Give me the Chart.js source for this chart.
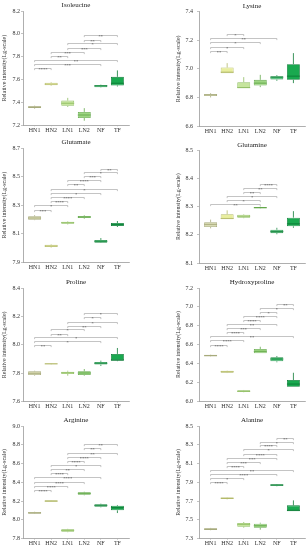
<!DOCTYPE html>
<html><head><meta charset="utf-8">
<script src="https://cdn.jsdelivr.net/npm/chart.js@4.4.1/dist/chart.umd.min.js"></script>
<style>
html,body{margin:0;padding:0;background:#fff;width:308px;height:550px;overflow:hidden}
canvas{position:absolute;display:block}
</style></head><body>
<script>
// ---------- DATA ----------
const CATEGORIES = ['HN1','HN2','LN1','LN2','NF','TF'];
// box stats per group: [min, q1, median, q3, max]
const ISOLEUCINE = [[7.345,7.352,7.360,7.366,7.372],[7.545,7.551,7.560,7.572,7.578],[7.360,7.370,7.393,7.416,7.440],[7.240,7.264,7.290,7.317,7.350],[7.530,7.533,7.545,7.553,7.556],[7.540,7.548,7.568,7.624,7.680]];
const LYSINE = [[6.800,6.810,6.818,6.824,6.830],[6.970,6.970,6.977,7.009,7.040],[6.865,6.865,6.869,6.907,6.942],[6.872,6.883,6.900,6.923,6.958],[6.916,6.925,6.942,6.949,6.956],[6.900,6.923,6.949,7.033,7.110]];
const GLUTAMATE = [[8.195,8.198,8.210,8.222,8.230],[8.003,8.007,8.014,8.023,8.027],[8.165,8.170,8.177,8.184,8.188],[8.205,8.210,8.217,8.224,8.229],[8.035,8.037,8.047,8.056,8.070],[8.147,8.154,8.163,8.175,8.189]];
const GLUTAMINE = [[8.223,8.228,8.237,8.245,8.254],[8.255,8.255,8.258,8.273,8.287],[8.259,8.261,8.266,8.271,8.273],[8.293,8.294,8.296,8.299,8.300],[8.202,8.206,8.212,8.218,8.225],[8.225,8.230,8.239,8.261,8.284]];
const PROLINE = [[7.783,7.788,7.800,7.814,7.818],[7.861,7.863,7.866,7.870,7.872],[7.783,7.795,7.804,7.811,7.818],[7.783,7.788,7.802,7.814,7.830],[7.851,7.861,7.870,7.880,7.889],[7.885,7.889,7.894,7.936,7.978]];
const HYDROXYPROLINE = [[6.470,6.474,6.481,6.491,6.494],[6.297,6.300,6.311,6.322,6.325],[6.093,6.096,6.103,6.114,6.117],[6.506,6.506,6.527,6.552,6.576],[6.411,6.421,6.446,6.464,6.478],[6.152,6.152,6.180,6.223,6.300]];
const ARGININE = [[8.063,8.066,8.075,8.084,8.087],[8.192,8.194,8.200,8.209,8.211],[7.869,7.874,7.889,7.900,7.905],[8.262,8.268,8.283,8.294,8.300],[8.134,8.140,8.155,8.166,8.173],[8.073,8.102,8.130,8.151,8.159]];
const ALANINE = [[7.390,7.393,7.402,7.410,7.415],[7.718,7.722,7.731,7.740,7.743],[7.417,7.428,7.453,7.467,7.478],[7.396,7.417,7.438,7.460,7.470],[7.858,7.861,7.872,7.879,7.882],[7.591,7.591,7.602,7.655,7.708]];

// significance brackets: [group a, group b, level, label]
const ISOLEUCINE_SIG = [[0,1,7.697,'****'],[0,4,7.735,'***'],[0,5,7.770,'**'],[1,2,7.802,'**'],[1,3,7.840,'***'],[2,4,7.875,'***'],[2,5,7.919,'*'],[3,4,7.948,'**'],[3,5,7.989,'**']];
const LYSINE_SIG = [[0,1,7.126,'**'],[0,2,7.154,'*'],[0,3,7.185,'*'],[0,4,7.213,'**'],[1,2,7.243,'*']];
const GLUTAMATE_SIG = [[0,1,8.268,'***'],[0,2,8.299,'*'],[1,2,8.329,'****'],[1,3,8.357,'****'],[1,4,8.387,'*'],[1,5,8.415,'*'],[2,3,8.448,'**'],[2,4,8.478,'****'],[3,4,8.503,'***'],[3,5,8.534,'*'],[4,5,8.555,'**']];
const GLUTAMINE_SIG = [[0,3,8.309,'**'],[1,3,8.323,'*'],[1,4,8.338,'*'],[2,3,8.352,'**'],[2,4,8.366,'**'],[3,4,8.380,'****']];
const PROLINE_SIG = [[0,1,7.997,'**'],[0,4,8.030,'*'],[0,5,8.053,'*'],[1,2,8.079,'**'],[1,3,8.110,'*'],[2,4,8.133,'**'],[2,5,8.163,'*'],[3,4,8.194,'*'],[3,5,8.225,'*']];
const HYDROXYPROLINE_SIG = [[0,1,6.598,'****'],[0,2,6.644,'****'],[0,5,6.687,'**'],[1,2,6.729,'****'],[1,3,6.771,'***'],[1,4,6.814,'**'],[2,3,6.857,'****'],[2,4,6.899,'****'],[3,4,6.948,'*'],[3,5,6.991,'*'],[4,5,7.030,'**']];
const ARGININE_SIG = [[0,1,8.321,'****'],[0,2,8.364,'****'],[0,3,8.406,'****'],[0,4,8.453,'****'],[1,2,8.496,'****'],[1,3,8.538,'**'],[1,4,8.584,'*'],[2,3,8.627,'****'],[2,4,8.669,'****'],[2,5,8.715,'**'],[3,4,8.762,'**'],[3,5,8.804,'**']];
const ALANINE_SIG = [[0,1,7.903,'****'],[0,2,7.946,'*'],[0,4,7.991,'****'],[0,5,8.034,'**'],[1,2,8.077,'****'],[1,3,8.119,'***'],[1,4,8.162,'***'],[2,4,8.204,'****'],[2,5,8.251,'*'],[3,4,8.293,'****'],[3,5,8.332,'*'],[4,5,8.375,'**']];

// y tick labels
const ISOLEUCINE_TICKS = [7.2,7.4,7.6,7.8,8.0,8.2];
const LYSINE_TICKS = [6.6,6.8,7.0,7.2,7.4];
const GLUTAMATE_TICKS = [7.9,8.1,8.3,8.5,8.7];
const GLUTAMINE_TICKS = [8.1,8.2,8.3,8.4,8.5];
const PROLINE_TICKS = [7.6,7.8,8.0,8.2,8.4];
const HYDROXYPROLINE_TICKS = [6.0,6.2,6.4,6.6,6.8,7.0,7.2];
const ARGININE_TICKS = [7.8,8.0,8.2,8.4,8.6,8.8,9.0];
const ALANINE_TICKS = [7.3,7.5,7.7,7.9,8.1,8.3,8.5];

const TITLES = ['Isoleucine','Lysine','Glutamate','Glutamine','Proline','Hydroxyproline','Arginine','Alanine'];
const Y_TITLE = 'Relative intensity(Lg-scale)';

// ---------- STYLE / LAYOUT ----------
const FILLS = ['#d9dbb3','#e8ee9e','#c6e59d','#9dd682','#3fba6c','#19a94f'];
const EDGES = ['#a7aa7c','#b4ba6a','#8fbd62','#64a84c','#208a46','#0c7a35'];
const FONT = '"Liberation Serif","DejaVu Serif",serif';
Chart.defaults.font.family = FONT;

const PANELS = [
  {stats:ISOLEUCINE, sig:ISOLEUCINE_SIG, ticks:ISOLEUCINE_TICKS, col:0, top:0,   h:137, pt:11,   pb:125.3},
  {stats:LYSINE, sig:LYSINE_SIG, ticks:LYSINE_TICKS, col:1, top:0,   h:137, pt:11.7, pb:126},
  {stats:GLUTAMATE, sig:GLUTAMATE_SIG, ticks:GLUTAMATE_TICKS, col:0, top:137, h:137, pt:11, pb:125.3},
  {stats:GLUTAMINE, sig:GLUTAMINE_SIG, ticks:GLUTAMINE_TICKS, col:1, top:137, h:137, pt:13.3, pb:126},
  {stats:PROLINE, sig:PROLINE_SIG, ticks:PROLINE_TICKS, col:0, top:274, h:137, pt:14, pb:127.7},
  {stats:HYDROXYPROLINE, sig:HYDROXYPROLINE_SIG, ticks:HYDROXYPROLINE_TICKS, col:1, top:274, h:137, pt:14, pb:127},
  {stats:ARGININE, sig:ARGININE_SIG, ticks:ARGININE_TICKS, col:0, top:411, h:139, pt:15, pb:127.7},
  {stats:ALANINE, sig:ALANINE_SIG, ticks:ALANINE_TICKS, col:1, top:411, h:139, pt:15, pb:127.7}
];

function makePlugin(p, title){
  return {
    id:'boxextras',
    beforeDatasetsDraw(chart){
      const {ctx, scales:{x,y}} = chart;
      ctx.save();
      ctx.lineWidth = 0.8;
      p.stats.forEach((s,i)=>{
        const cx = x.getPixelForValue(i);
        ctx.strokeStyle = EDGES[i];
        ctx.beginPath();
        ctx.moveTo(cx, y.getPixelForValue(s[3])); ctx.lineTo(cx, y.getPixelForValue(s[4]));
        ctx.moveTo(cx, y.getPixelForValue(s[1])); ctx.lineTo(cx, y.getPixelForValue(s[0]));
        ctx.stroke();
      });
      ctx.restore();
    },
    afterDatasetsDraw(chart){
      const {ctx, scales:{x,y}, chartArea} = chart;
      const meta = chart.getDatasetMeta(0);
      ctx.save();
      // medians
      p.stats.forEach((s,i)=>{
        const bar = meta.data[i];
        const w = bar.width;
        const cx = x.getPixelForValue(i);
        const my = y.getPixelForValue(s[2]);
        ctx.strokeStyle = EDGES[i]; ctx.lineWidth = 0.9;
        ctx.beginPath(); ctx.moveTo(cx-w/2, my); ctx.lineTo(cx+w/2, my); ctx.stroke();
      });
      // significance brackets
      p.sig.forEach(([a,b,v,lab])=>{
        const x1 = x.getPixelForValue(a), x2 = x.getPixelForValue(b), yy = Math.round(y.getPixelForValue(v))+0.5;
        ctx.strokeStyle = '#9c9c9c'; ctx.lineWidth = 0.6;
        ctx.beginPath();
        ctx.moveTo(x1, yy+1.6); ctx.lineTo(x1, yy); ctx.lineTo(x2, yy); ctx.lineTo(x2, yy+1.6);
        ctx.stroke();
        ctx.fillStyle = '#555'; ctx.font = '4.5px ' + FONT;
        ctx.textAlign = 'center'; ctx.textBaseline = 'alphabetic';
        ctx.fillText(lab, (x1+x2)/2, yy+2.2);
      });
      // panel title
      ctx.fillStyle = '#222'; ctx.font = '7px ' + FONT;
      ctx.textAlign = 'center'; ctx.textBaseline = 'middle';
      ctx.fillText(title, (chartArea.left+chartArea.right)/2, chartArea.top - 5.5);
      ctx.restore();
    }
  };
}

PANELS.forEach((p, k)=>{
  const c = document.createElement('canvas');
  c.width = 154; c.height = p.h;
  c.style.left = (p.col*154)+'px'; c.style.top = p.top+'px';
  c.style.width = '154px'; c.style.height = p.h+'px';
  document.body.appendChild(c);
  const yMin = p.ticks[0], yMax = p.ticks[p.ticks.length-1];
  new Chart(c, {
    type:'bar',
    data:{
      datasets:[{
        data: p.stats.map((s,i)=>({x:i, y:[s[1], s[3]]})),
        backgroundColor: FILLS, borderColor: EDGES, borderWidth: 0.8, borderSkipped:false,
        barPercentage: 0.78, categoryPercentage: 1
      }]
    },
    options:{
      responsive:false, animation:false, devicePixelRatio:1,
      layout:{padding:{top:p.pt, left:p.col?20:0, right:p.col?3:25, bottom:0}},
      plugins:{legend:{display:false}, tooltip:{enabled:false}, title:{display:false}},
      scales:{
        x:{
          type:'linear', min:-0.7, max:5.7, offset:false,
          afterBuildTicks: s=>{ s.ticks = CATEGORIES.map((c,i)=>({value:i})); },
          afterFit: s=>{ s.height = p.h - p.pb; },
          ticks:{ callback:(v)=> CATEGORIES[v] ?? '', autoSkip:false, maxRotation:0, font:{size:6}, color:'#333', padding:0.5 },
          grid:{ display:true, offset:false, drawOnChartArea:false, drawTicks:true, tickLength:1, color:'#9a9a9a', lineWidth:0.6 },
          border:{ display:true, color:'#9a9a9a', width:0.8 }
        },
        y:{
          type:'linear', min:yMin, max:yMax, offset:false,
          afterBuildTicks: s=>{ s.ticks = p.ticks.map(v=>({value:v})); },
          afterFit: s=>{ s.width = p.col ? 25 : 23; },
          ticks:{ callback:(v)=> Number(v).toFixed(1), font:{size:6}, color:'#333', padding: p.col?4:1 },
          grid:{ display:true, drawOnChartArea:false, drawTicks:true, tickLength:2, color:'#9a9a9a', lineWidth:0.6 },
          border:{ display:true, color:'#9a9a9a', width:0.8 },
          title:{ display:true, text:Y_TITLE, font:{size:6}, color:'#333', padding:{top:1,bottom:0} }
        }
      }
    },
    plugins:[makePlugin(p, TITLES[k])]
  });
});
</script>
</body></html>
